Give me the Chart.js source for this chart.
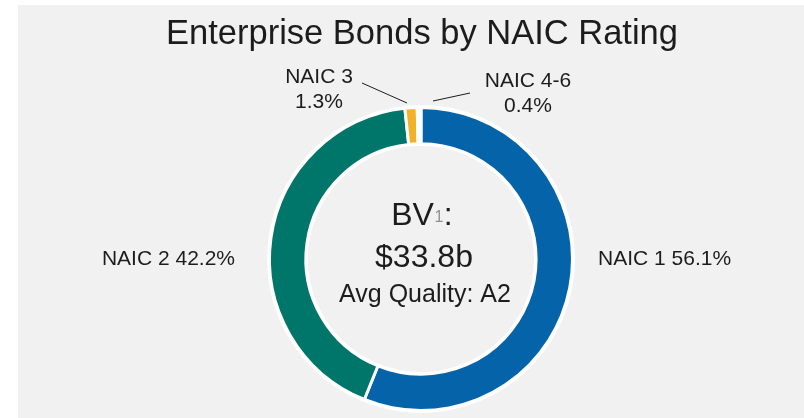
<!DOCTYPE html>
<html>
<head>
<meta charset="utf-8">
<script src="https://cdn.jsdelivr.net/npm/chart.js@4/dist/chart.umd.min.js"></script>
<style>
  html, body { margin: 0; padding: 0; background: #ffffff; }
  #wrap { position: relative; width: 804px; height: 418px; }
  #panel { position: absolute; left: 18px; top: 5px; width: 786px; height: 413px; background: #f1f1f1; }
  #grafico-naic { position: absolute; left: 0; top: 0; }
</style>
</head>
<body>
<div id="wrap">
  <div id="panel"></div>
  <canvas id="grafico-naic" width="804" height="418"></canvas>
</div>
<script>
const titulo = "Enterprise Bonds by NAIC Rating";
const categorias = ["NAIC 1", "NAIC 2", "NAIC 3", "NAIC 4-6"];
const porcentajes = [56.1, 42.2, 1.3, 0.4];
const valorLibros = "$33.8b";
const calidadPromedio = "A2";

const colores = ["#0463a9", "#00756a", "#f1b12a", "#ffffff"];
const fuente = "'Liberation Sans', Arial, sans-serif";
const colorTexto = "#1c1c1c";

// posicion de cada etiqueta respecto al centro del anillo
const etiquetas = [
  { dx: 177, dy: 6, align: "left", lineas: 1 },
  { dx: -186, dy: 6, align: "right", lineas: 1 },
  { dx: -102, dy: -176, align: "center", lineas: 2, guia: [-59, -176, -14, -156] },
  { dx: 107, dy: -172, align: "center", lineas: 2, guia: [12, -158, 49, -166] },
];

const anilloBlanco = {
  id: "anilloBlanco",
  beforeDatasetsDraw(chart) {
    const arc = chart.getDatasetMeta(0).data[0];
    if (!arc) return;
    const { x, y, outerRadius, innerRadius } = arc.getProps(["x", "y", "outerRadius", "innerRadius"], true);
    const ctx = chart.ctx;
    ctx.save();
    ctx.beginPath();
    ctx.arc(x, y, outerRadius + 2.5, 0, Math.PI * 2);
    ctx.arc(x, y, innerRadius - 2, 0, Math.PI * 2, true);
    ctx.fillStyle = "#ffffff";
    ctx.fill();
    ctx.restore();
  },
};

const textos = {
  id: "textos",
  afterDraw(chart) {
    const ctx = chart.ctx;
    const arc = chart.getDatasetMeta(0).data[0];
    const cx = arc.x;
    const cy = arc.y;
    ctx.save();
    ctx.fillStyle = colorTexto;
    ctx.textBaseline = "alphabetic";

    // titulo
    ctx.font = "34.5px " + fuente;
    ctx.textAlign = "center";
    ctx.fillText(titulo, cx + 1, 44);

    // etiquetas de cada categoria
    ctx.font = "21px " + fuente;
    categorias.forEach((cat, i) => {
      const e = etiquetas[i];
      ctx.textAlign = e.align;
      const pct = porcentajes[i].toFixed(1) + "%";
      if (e.lineas === 1) {
        ctx.fillText(cat + " " + pct, cx + e.dx, cy + e.dy);
      } else {
        ctx.fillText(cat, cx + e.dx, cy + e.dy);
        ctx.fillText(pct, cx + e.dx, cy + e.dy + 25);
      }
      if (e.guia) {
        ctx.beginPath();
        ctx.moveTo(cx + e.guia[0], cy + e.guia[1]);
        ctx.lineTo(cx + e.guia[2], cy + e.guia[3]);
        ctx.strokeStyle = "#1c1c1c";
        ctx.lineWidth = 1;
        ctx.stroke();
      }
    });

    // texto central
    ctx.textAlign = "left";
    ctx.font = "32px " + fuente;
    const wBV = ctx.measureText("BV").width;
    const wDos = ctx.measureText(":").width;
    ctx.font = "16px " + fuente;
    const wUno = ctx.measureText("1").width + 1;
    let x0 = cx + 1 - (wBV + wUno + wDos) / 2;
    ctx.font = "32px " + fuente;
    ctx.fillText("BV", x0, cy - 34);
    ctx.font = "16px " + fuente;
    ctx.fillStyle = "#8f8f8f";
    ctx.fillText("1", x0 + wBV + 0.5, cy - 37);
    ctx.fillStyle = colorTexto;
    ctx.font = "32px " + fuente;
    ctx.fillText(":", x0 + wBV + wUno, cy - 34);

    ctx.textAlign = "center";
    ctx.fillText(valorLibros, cx + 3, cy + 8);
    ctx.font = "25px " + fuente;
    ctx.fillText("Avg Quality: " + calidadPromedio, cx + 4, cy + 43);
    ctx.restore();
  },
};

const ctx = document.getElementById("grafico-naic").getContext("2d");
new Chart(ctx, {
  type: "doughnut",
  data: {
    labels: categorias,
    datasets: [
      {
        data: porcentajes,
        backgroundColor: colores,
        borderColor: "#ffffff",
        borderWidth: 3,
      },
    ],
  },
  options: {
    responsive: false,
    maintainAspectRatio: false,
    animation: false,
    cutout: "76%",
    rotation: 0,
    layout: { padding: { left: 268, right: 230, top: 106, bottom: 6 } },
    plugins: {
      legend: { display: false },
      tooltip: { enabled: false },
      title: { display: false },
    },
  },
  plugins: [anilloBlanco, textos],
});
</script>
</body>
</html>
